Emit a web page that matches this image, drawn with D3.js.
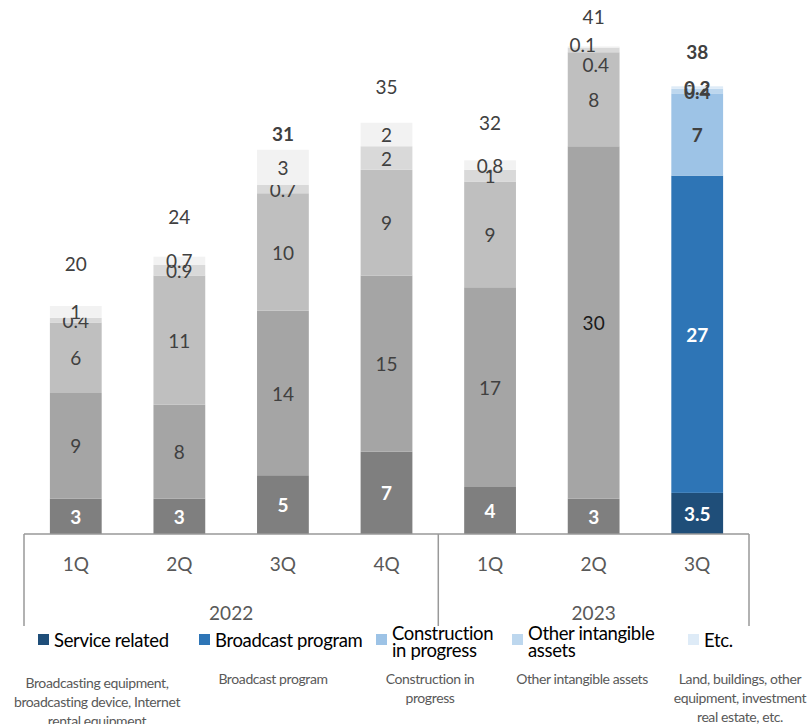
<!DOCTYPE html>
<html>
<head>
<meta charset="utf-8">
<script src="https://cdn.jsdelivr.net/npm/d3@7"></script>
<style>
  html, body { margin: 0; padding: 0; background: #ffffff; }
  svg { display: block; font-family: Lato, "Open Sans", sans-serif; }
</style>
</head>
<body>
<svg id="chart" width="812" height="724"></svg>
<script>
// Quarterly capital expenditure by type (KRW bn)
const quarters = ["1Q", "2Q", "3Q", "4Q", "1Q", "2Q", "3Q"];
const years = ["2022", "2023"];
const yearOfBar = ["2022", "2022", "2022", "2022", "2023", "2023", "2023"];

const serviceRelated        = [3, 3, 5, 7, 4, 3, 3.5];
const broadcastProgram      = [9, 8, 14, 15, 17, 30, 27];
const constructionInProgress = [6, 11, 10, 9, 9, 8, 7];
const otherIntangibleAssets = [0.4, 0.9, 0.7, 2, 1, 0.4, 0.4];
const etcAssets             = [1, 0.7, 3, 2, 0.8, 0.1, 0.2];
const totals                = [20, 24, 31, 35, 32, 41, 38];

const seriesNames = ["Service related", "Broadcast program", "Construction\nin progress", "Other intangible\nassets", "Etc."];
const seriesDescriptions = [
  "Broadcasting equipment,\nbroadcasting device, Internet\nrental equipment",
  "Broadcast program",
  "Construction in\nprogress",
  "Other intangible assets",
  "Land, buildings, other\nequipment, investment\nreal estate, etc."
];

const keys = ["s0", "s1", "s2", "s3", "s4"];
const seriesValues = [serviceRelated, broadcastProgram, constructionInProgress, otherIntangibleAssets, etcAssets];
const rows = quarters.map((q, i) => {
  const r = { idx: i };
  keys.forEach((k, j) => { r[k] = seriesValues[j][i]; });
  return r;
});

const greyShades = ["#7f7f7f", "#a5a5a5", "#bfbfbf", "#d9d9d9", "#f2f2f2"];
const blueShades = ["#1f4e79", "#2e75b6", "#9dc3e6", "#bdd7ee", "#deebf7"];
const highlightBar = quarters.length - 1;

const svg = d3.select("#chart");

const x = d3.scaleBand()
  .domain(d3.range(quarters.length))
  .range([24, 749])
  .paddingInner(0.5)
  .paddingOuter(0.25);

const y = d3.scaleLinear().domain([0, 45]).range([534, 534 - 45 * 11.75]);

const stacked = d3.stack().keys(keys)(rows);

// stacked bars
const layers = svg.append("g").selectAll("g")
  .data(stacked)
  .join("g");

layers.selectAll("rect")
  .data((layer, j) => layer.map(d => ({ d, j })))
  .join("rect")
  .attr("x", o => x(o.d.data.idx))
  .attr("width", x.bandwidth())
  .attr("y", o => y(o.d[1]))
  .attr("height", o => y(o.d[0]) - y(o.d[1]))
  .attr("fill", o => (o.d.data.idx === highlightBar ? blueShades : greyShades)[o.j]);

// segment value labels
function labelStyle(j, i) {
  const hi = i === highlightBar;
  if (j === 0) return { fill: "#ffffff", weight: 700 };
  if (j === 1 && hi) return { fill: "#ffffff", weight: 700 };
  if (hi) return { fill: "#404040", weight: 700 };
  if (j === 1 && i === 5) return { fill: "#1a1a1a", weight: 400 };
  return { fill: "#404040", weight: 400 };
}

// thin top segments of the 2Q 2023 bar: labels pulled apart so both stay legible
const labelNudge = { "5-4": [-11, -2], "5-3": [2, 15] };

layers.selectAll("text")
  .data((layer, j) => layer.map(d => ({ d, j })))
  .join("text")
  .attr("x", o => x(o.d.data.idx) + x.bandwidth() / 2 + ((labelNudge[o.d.data.idx + "-" + o.j] || [0, 0])[0]))
  .attr("y", o => (y(o.d[0]) + y(o.d[1])) / 2 + ((labelNudge[o.d.data.idx + "-" + o.j] || [0, 0])[1]))
  .attr("text-anchor", "middle")
  .attr("dominant-baseline", "central")
  .attr("font-size", 19)
  .attr("fill", o => labelStyle(o.j, o.d.data.idx).fill)
  .attr("font-weight", o => labelStyle(o.j, o.d.data.idx).weight)
  .text(o => o.d.data[keys[o.j]]);

// totals
svg.append("g").selectAll("text")
  .data(totals)
  .join("text")
  .attr("x", (t, i) => x(i) + x.bandwidth() / 2)
  .attr("y", t => y(t) - 36)
  .attr("text-anchor", "middle")
  .attr("dominant-baseline", "central")
  .attr("font-size", 19)
  .attr("fill", "#404040")
  .attr("font-weight", (t, i) => (i === 2 || i === highlightBar) ? 700 : 400)
  .text(t => t);

// category axis: quarters, then years inside a boxed frame
const axisColor = "#999999";
const axisG = svg.append("g")
  .attr("transform", `translate(0,${y(0)})`)
  .call(d3.axisBottom(x).tickSize(0).tickPadding(24).tickFormat(i => quarters[i]));
axisG.select(".domain").remove();
axisG.selectAll("text")
  .attr("font-size", 19)
  .attr("fill", "#595959")
  .attr("font-family", "Lato, sans-serif");

const frameBottom = 626;
const step = x.step();
const yearBounds = years.map(yr => {
  const idx = yearOfBar.map((v, i) => v === yr ? i : -1).filter(i => i >= 0);
  return {
    yr,
    x0: x(idx[0]) - step * x.paddingInner() / 2,
    x1: x(idx[idx.length - 1]) + x.bandwidth() + step * x.paddingInner() / 2
  };
});
yearBounds[0].x0 = x.range()[0];
yearBounds[yearBounds.length - 1].x1 = x.range()[1];

const frame = svg.append("g").attr("stroke", axisColor).attr("stroke-width", 1.5).attr("fill", "none");
frame.append("line")
  .attr("x1", x.range()[0]).attr("x2", x.range()[1])
  .attr("y1", y(0)).attr("y2", y(0));
const edges = [yearBounds[0].x0].concat(yearBounds.map(b => b.x1));
frame.selectAll("line.edge")
  .data(edges)
  .join("line")
  .attr("class", "edge")
  .attr("x1", d => d).attr("x2", d => d)
  .attr("y1", y(0)).attr("y2", frameBottom);

svg.append("g").selectAll("text")
  .data(yearBounds)
  .join("text")
  .attr("x", b => (b.x0 + b.x1) / 2)
  .attr("y", 612)
  .attr("text-anchor", "middle")
  .attr("dominant-baseline", "central")
  .attr("font-size", 19)
  .attr("fill", "#595959")
  .text(b => b.yr);

// legend
const legendX = [38, 199, 376, 512, 688];
const legend = svg.append("g");
const items = legend.selectAll("g")
  .data(seriesNames)
  .join("g")
  .attr("transform", (n, j) => `translate(${legendX[j]},0)`);
items.append("rect")
  .attr("x", 0).attr("y", 634)
  .attr("width", 11).attr("height", 11)
  .attr("fill", (n, j) => blueShades[j]);
items.append("text")
  .attr("x", 16)
  .attr("font-size", 18.5)
  .attr("letter-spacing", -0.35)
  .attr("fill", "#000000")
  .each(function (n) {
    const lines = n.split("\n");
    const t = d3.select(this);
    const top = lines.length > 1 ? 633 : 640;
    lines.forEach((ln, k) => {
      t.append("tspan")
        .attr("x", 16)
        .attr("y", top + k * 17)
        .attr("dominant-baseline", "central")
        .text(ln);
    });
  });

// descriptions under each legend entry
const descX = [97, 273, 430, 582, 740];
svg.append("g").selectAll("text")
  .data(seriesDescriptions)
  .join("text")
  .attr("font-size", 14)
  .attr("letter-spacing", -0.4)
  .attr("fill", "#595959")
  .attr("text-anchor", "middle")
  .each(function (s, j) {
    const lines = s.split("\n");
    const t = d3.select(this);
    const top = (j === 0) ? 682 : 678;
    lines.forEach((ln, k) => {
      t.append("tspan")
        .attr("x", descX[j])
        .attr("y", top + k * 19)
        .attr("dominant-baseline", "central")
        .text(ln);
    });
  });
</script>
</body>
</html>
